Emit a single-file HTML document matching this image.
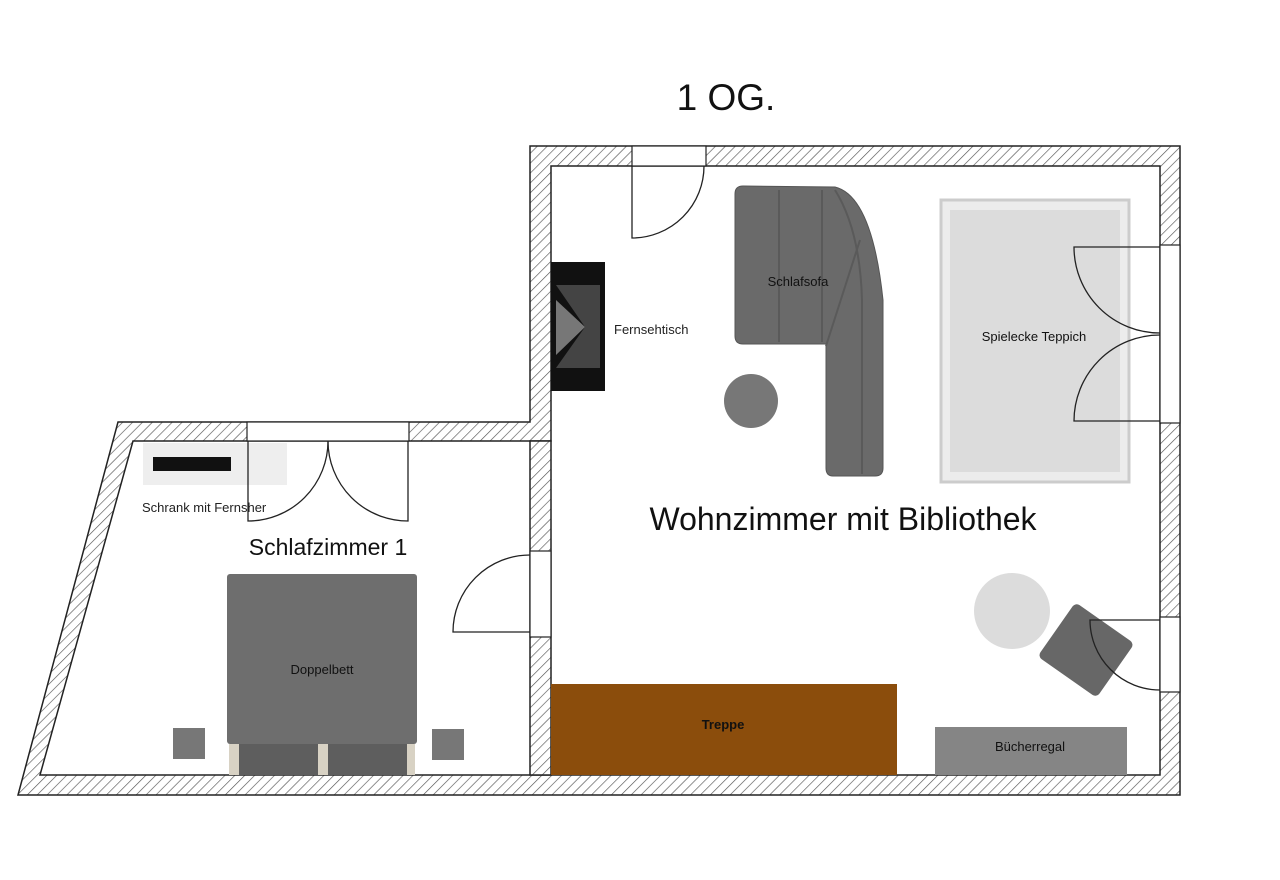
<!DOCTYPE html>
<html><head><meta charset="utf-8"><style>html,body{margin:0;padding:0;background:#fff}svg{display:block}text{font-family:"Liberation Sans",sans-serif}</style></head>
<body>
<svg width="1280" height="880" viewBox="0 0 1280 880" xmlns="http://www.w3.org/2000/svg">
<defs>
<pattern id="h" patternUnits="userSpaceOnUse" width="7" height="7" patternTransform="rotate(45)">
<rect width="7" height="7" fill="#fff"/><line x1="0" y1="0" x2="0" y2="7" stroke="#555" stroke-width="1.3"/>
</pattern>
</defs>
<text x="726" y="110" font-size="37" text-anchor="middle" fill="#111">1 OG.</text>
<!-- walls -->
<g stroke="#222" stroke-width="1.5" fill="url(#h)">
<path d="M530,146 L1180,146 L1180,795 L18,795 L118,422 L530,422 Z M551,166 L551,441 L133,441 L40,775 L1160,775 L1160,166 Z" fill-rule="evenodd"/>
<rect x="530" y="441" width="21" height="334"/>
</g>
<g fill="#fff" stroke="#222" stroke-width="1.2">
<rect x="632" y="146" width="74" height="20"/>
<rect x="247" y="422" width="162" height="19"/>
<rect x="530" y="551" width="21" height="86"/>
<rect x="1160" y="245" width="20" height="178"/>
<rect x="1160" y="617" width="20" height="75"/>
</g>
<!-- left room furniture -->
<rect x="143" y="443" width="144" height="42" fill="#eee"/>
<rect x="153" y="457" width="78" height="14" fill="#111"/>
<text x="142" y="512" font-size="13" fill="#222">Schrank mit Fernsher</text>
<text x="328" y="555" font-size="23" text-anchor="middle" fill="#111">Schlafzimmer 1</text>
<rect x="227" y="574" width="190" height="170" fill="#6e6e6e" rx="3"/>
<rect x="229" y="744" width="186" height="31" fill="#d8d2c4"/>
<rect x="239" y="744" width="79" height="31" fill="#5e5e5e"/>
<rect x="328" y="744" width="79" height="31" fill="#5e5e5e"/>
<text x="322" y="674" font-size="13" text-anchor="middle" fill="#111">Doppelbett</text>
<rect x="173" y="728" width="32" height="31" fill="#777"/>
<rect x="432" y="729" width="32" height="31" fill="#777"/>
<!-- right room -->
<rect x="551" y="262" width="54" height="129" fill="#111"/>
<polygon points="556,285 600,285 600,368 556,368 585,327" fill="#444"/>
<polygon points="556,300 585,327 556,355" fill="#777"/>
<text x="614" y="334" font-size="13" fill="#222">Fernsehtisch</text>
<path d="M735,194 Q735,186 743,186 L835,187 Q872,196 883,300 L883,468 Q883,476 875,476 L833,476 Q826,476 826,468 L826,344 L743,344 Q735,344 735,336 Z" fill="#6a6a6a" stroke="#555"/>
<g stroke="#5a5a5a" stroke-width="2" fill="none"><line x1="779" y1="190" x2="779" y2="342"/><line x1="822" y1="190" x2="822" y2="342"/><path d="M835,190 Q860,230 862,300 L862,474"/><line x1="826" y1="346" x2="860" y2="240"/></g>
<text x="798" y="286" font-size="13" text-anchor="middle" fill="#111">Schlafsofa</text>
<circle cx="751" cy="401" r="27" fill="#777"/>
<rect x="941" y="200" width="188" height="282" fill="#ececec" stroke="#ccc" stroke-width="3"/>
<rect x="950" y="210" width="170" height="262" fill="#dcdcdc"/>
<text x="1034" y="341" font-size="13" text-anchor="middle" fill="#111">Spielecke Teppich</text>
<text x="843" y="530" font-size="32" text-anchor="middle" fill="#111">Wohnzimmer mit Bibliothek</text>
<circle cx="1012" cy="611" r="38" fill="#dcdcdc"/>
<rect x="1050" y="617" width="72" height="66" rx="5" fill="#676767" transform="rotate(35 1086 650)"/>
<rect x="551" y="684" width="346" height="91" fill="#8b4d0c"/>
<text x="723" y="729" font-size="13" font-weight="bold" text-anchor="middle" fill="#111">Treppe</text>
<rect x="935" y="727" width="192" height="48" fill="#858585"/>
<text x="1030" y="751" font-size="13" text-anchor="middle" fill="#111">Bücherregal</text>
<!-- doors -->
<g fill="none" stroke="#222" stroke-width="1.3">
<path d="M632,166 L632,238 A72,72 0 0 0 704,166"/>
<path d="M248,441 L248,521 A80,80 0 0 0 328,441"/>
<path d="M408,441 L408,521 A80,80 0 0 1 328,441"/>
<path d="M530,555 A77,77 0 0 0 453,632 L530,632"/>
<path d="M1160,247 L1074,247 A86,86 0 0 0 1160,333"/>
<path d="M1160,421 L1074,421 A86,86 0 0 1 1160,335"/>
<path d="M1160,620 L1090,620 A70,70 0 0 0 1160,690"/>
</g>
</svg>
</body></html>
